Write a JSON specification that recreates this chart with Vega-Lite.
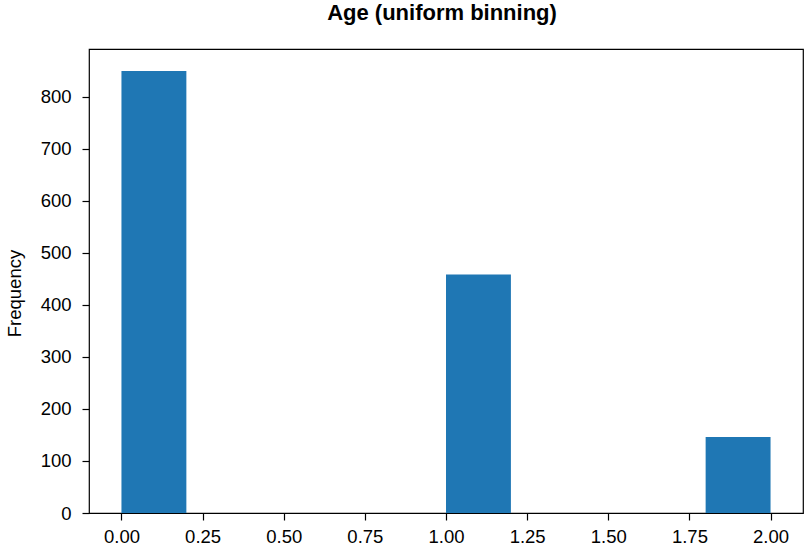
{
  "$schema": "https://vega.github.io/schema/vega-lite/v6.json",
  "width": 714,
  "height": 464,
  "autosize": {"type": "none"},
  "padding": {"left": 89, "top": 49, "right": 1, "bottom": 37},
  "background": "white",
  "title": {
    "text": "Age (uniform binning)",
    "font": "Liberation Sans",
    "fontSize": 22,
    "fontWeight": "bold",
    "color": "black",
    "anchor": "middle",
    "offset": 24,
    "dx": -4
  },
  "config": {
    "view": {"stroke": "black", "strokeWidth": 1.2},
    "axis": {
      "grid": false,
      "domain": false,
      "tickColor": "black",
      "tickSize": 7,
      "tickWidth": 1.2,
      "labelFont": "Liberation Sans",
      "labelFontSize": 18.5,
      "labelColor": "black",
      "titleFont": "Liberation Sans",
      "titleFontSize": 18.5,
      "titleFontWeight": "normal",
      "titleColor": "black"
    }
  },
  "data": {
    "values": [
      {"start": 0.0, "end": 0.2, "count": 849},
      {"start": 0.2, "end": 0.4, "count": 0},
      {"start": 0.4, "end": 0.6, "count": 0},
      {"start": 0.6, "end": 0.8, "count": 0},
      {"start": 0.8, "end": 1.0, "count": 0},
      {"start": 1.0, "end": 1.2, "count": 458},
      {"start": 1.2, "end": 1.4, "count": 0},
      {"start": 1.4, "end": 1.6, "count": 0},
      {"start": 1.6, "end": 1.8, "count": 0},
      {"start": 1.8, "end": 2.0, "count": 146}
    ]
  },
  "mark": {"type": "rect", "color": "#1f77b4"},
  "encoding": {
    "x": {
      "field": "start",
      "type": "quantitative",
      "scale": {"domain": [-0.1, 2.1], "nice": false, "zero": false},
      "axis": {"values": [0, 0.25, 0.5, 0.75, 1, 1.25, 1.5, 1.75, 2], "format": ".2f", "title": null, "labelPadding": 7}
    },
    "x2": {"field": "end"},
    "y": {
      "field": "count",
      "type": "quantitative",
      "scale": {"domain": [0, 891.45], "nice": false},
      "axis": {"values": [0, 100, 200, 300, 400, 500, 600, 700, 800], "title": "Frequency", "titlePadding": 16, "labelPadding": 11, "titleY": 244}
    },
    "y2": {"datum": 0}
  }
}
